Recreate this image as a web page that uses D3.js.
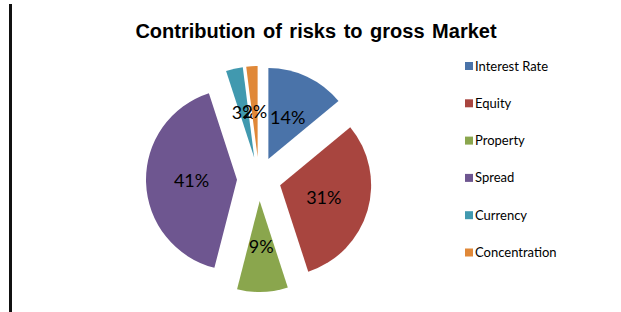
<!DOCTYPE html>
<meta charset="utf-8">
<style>
body { margin: 0; background: #fff; }
.title { font: bold 20px "Liberation Sans", Arial, sans-serif; fill: #000; }
.lbl { font: 18px Lato, "Open Sans", sans-serif; fill: #000; }
.leg { font: 13px Lato, "Open Sans", sans-serif; fill: #000; }
</style>
<svg width="621" height="312"></svg>
<script src="https://cdn.jsdelivr.net/npm/d3@7/dist/d3.min.js"></script>
<script>

var categories = ["Interest Rate", "Equity", "Property", "Spread", "Currency", "Concentration"];
var values = [14, 31, 9, 41, 3, 2];
var colors = ["#4A73A9", "#A8453F", "#8AA64D", "#6E5690", "#4199AF", "#E08838"];

var svg = d3.select("svg");

svg.append("rect").attr("width", 621).attr("height", 312).attr("fill", "#fff");

// left border line
svg.append("line")
    .attr("x1", 10.5).attr("x2", 10.5)
    .attr("y1", 4).attr("y2", 312)
    .attr("stroke", "#111").attr("stroke-width", 3);

svg.append("text")
    .attr("class", "title")
    .attr("x", 316).attr("y", 38)
    .attr("text-anchor", "middle")
    .attr("word-spacing", "2px")
    .text("Contribution of risks to gross Market");

var cx = 259, cy = 179, r = 91, explode = 22;

var pie = d3.pie().sort(null).value(function(d) { return d; });
var arc = d3.arc().innerRadius(0).outerRadius(r);
var color = d3.scaleOrdinal().domain(categories).range(colors);

var arcs = pie(values);

var g = svg.append("g").attr("transform", "translate(" + cx + "," + cy + ")");

var slice = g.selectAll("g.slice")
    .data(arcs)
  .enter().append("g")
    .attr("class", "slice")
    .attr("transform", function(d) {
      var a = (d.startAngle + d.endAngle) / 2;
      return "translate(" + (explode * Math.sin(a)) + "," + (-explode * Math.cos(a)) + ")";
    });

slice.append("path")
    .attr("d", arc)
    .attr("fill", function(d, i) { return color(categories[i]); });

slice.append("text")
    .attr("class", "lbl")
    .attr("text-anchor", "middle")
    .attr("dy", "0.35em")
    .attr("x", function(d) { return 0.5 * r * Math.sin((d.startAngle + d.endAngle) / 2); })
    .attr("y", function(d) { return -0.5 * r * Math.cos((d.startAngle + d.endAngle) / 2); })
    .text(function(d) { return d.value + "%"; });

var legend = svg.append("g").selectAll("g")
    .data(categories)
  .enter().append("g")
    .attr("transform", function(d, i) { return "translate(465," + (66 + i * 37.3) + ")"; });

legend.append("rect")
    .attr("x", 0).attr("y", -4)
    .attr("width", 8).attr("height", 8)
    .attr("fill", function(d) { return color(d); });

legend.append("text")
    .attr("class", "leg")
    .attr("x", 10).attr("dy", "0.35em")
    .text(function(d) { return d; });

</script>
